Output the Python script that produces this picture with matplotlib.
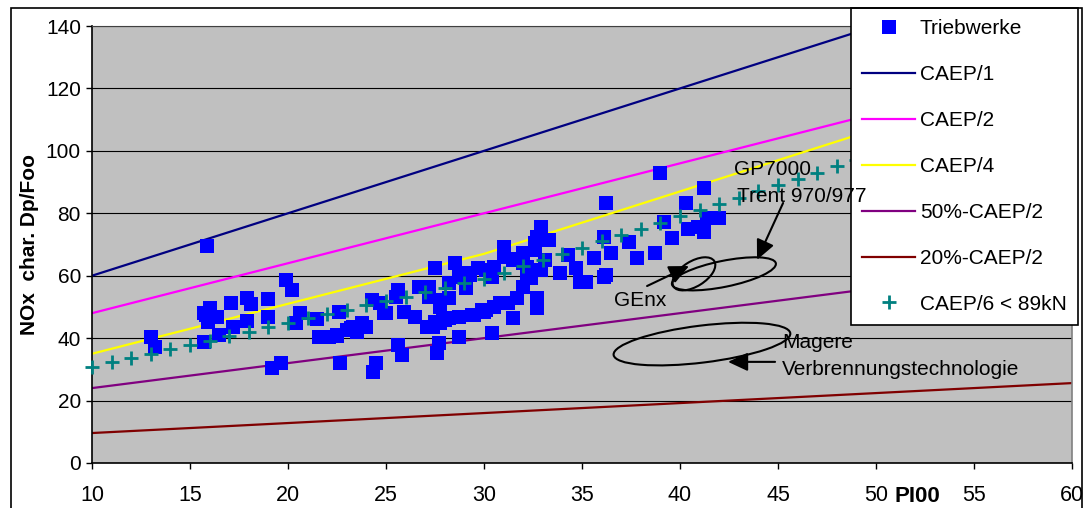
import matplotlib
matplotlib.use('Agg')
import matplotlib.pyplot as plt
from matplotlib import font_manager as fm
from matplotlib.patches import Ellipse, Rectangle
import matplotlib.transforms as mtransforms

# ---------------- data ----------------
pi_engines = [13.0, 13.2, 15.85, 15.7, 16.0, 15.9, 15.7, 16.4, 16.5, 17.1,
              17.2, 17.9, 18.1, 17.9, 19.0, 19.0, 19.2, 19.65, 19.9, 20.2,
              20.4, 15.8, 20.6, 21.5, 21.6, 22.1, 22.5, 22.6, 23.0, 23.3,
              22.65, 23.8, 24.3, 24.9, 24.5, 24.35, 25.6, 25.8, 25.6, 25.5,
              25.9, 26.5, 26.7, 27.2, 27.2, 27.5, 27.75, 27.75, 27.4, 27.9,
              27.7, 27.6, 28.5, 28.2, 28.2, 28.7, 28.7, 29.1, 29.3, 29.7,
              29.5, 29.9, 30.4, 30.4, 31.0, 31.0, 30.5, 30.8, 36.2, 32.9,
              32.7, 33.3, 32.0, 32.6, 33.1, 31.5, 32.0, 32.9, 33.9, 34.3,
              34.7, 34.9, 35.2, 35.6, 36.1, 36.1, 36.5, 37.4, 37.8, 38.7,
              30.4, 31.5, 30.1, 31.2, 31.7, 32.0, 32.2, 32.7, 32.7, 32.2,
              39.0, 41.2, 40.3, 39.2, 41.4, 42.0, 40.9, 40.4, 41.2, 39.6,
              36.2, 24.7, 25.0, 28.7, 29.2, 30.1, 30.5, 31.6, 32.6, 32.4,
              27.1, 27.5, 28.0, 29.4, 30.0, 23.5, 24.0, 27.75, 28.2, 22.5,
              23.2]
nox_engines = [40.5, 37.3, 69.4, 48.0, 49.7, 45.2, 38.9, 46.8, 41.0, 51.3,
               43.5, 53.0, 51.0, 45.6, 52.7, 46.7, 30.5, 32.0, 58.7, 55.4,
               44.8, 47.4, 48.0, 46.2, 40.5, 40.5, 40.6, 48.5, 42.6, 43.7,
               32.1, 44.8, 52.2, 48.0, 32.0, 29.3, 37.8, 34.6, 55.4, 53.3,
               48.5, 46.9, 56.5, 56.5, 53.3, 62.4, 52.2, 50.1, 43.7, 45.8,
               38.4, 35.2, 64.0, 57.6, 52.8, 46.9, 40.5, 56.0, 60.3, 62.4,
               47.4, 49.0, 41.8, 60.3, 69.3, 66.1, 50.1, 51.2, 83.4, 75.7,
               72.5, 71.5, 67.2, 68.3, 65.1, 65.1, 64.0, 61.9, 60.8, 66.7,
               62.4, 58.1, 58.1, 65.6, 72.5, 59.7, 67.2, 70.9, 65.6, 67.2,
               59.7, 46.4, 49.0, 51.2, 52.8, 56.5, 59.7, 52.8, 49.6, 62.9,
               92.9, 88.0, 83.2, 77.3, 78.4, 78.4, 75.7, 74.9, 74.1, 72.0,
               60.3, 51.2, 48.0, 59.7, 60.8, 61.9, 62.9, 65.4, 70.4, 59.2,
               43.7, 45.3, 45.8, 47.4, 48.4, 42.0, 43.5, 44.8, 46.4, 41.0,
               43.2]

pi_caep6 = [10, 11, 12, 13, 14, 15, 16, 17, 18, 19, 20, 21, 22, 23, 24,
            25, 26, 27, 28, 29, 30, 31, 32, 33, 34, 35, 36, 37, 38, 39,
            40, 41, 42, 43, 44, 45, 46, 47, 48, 49]
nox_caep6 = [30.8, 32.2, 33.6, 35.0, 36.4, 37.8, 39.2, 40.7, 42.1, 43.5,
             44.9, 46.3, 47.7, 49.1, 50.5, 51.9, 53.3, 54.7, 56.1, 57.6,
             59.0, 61.0, 63.0, 65.0, 67.0, 69.0, 71.0, 73.0, 75.0, 77.0,
             79.0, 81.0, 83.0, 85.0, 87.0, 89.0, 91.0, 93.0, 95.0, 97.0]

pi_line = [10, 60]
caep1 = [60, 160]
caep2 = [48, 128]
pi_caep4 = [10, 30, 60]
caep4 = [35, 67, 127]
caep2_50 = [24, 64]
caep2_20 = [9.6, 25.6]

xticks = [10, 15, 20, 25, 30, 35, 40, 45, 50, 55, 60]
yticks = [0, 20, 40, 60, 80, 100, 120, 140]

labels = ['Triebwerke', 'CAEP/1', 'CAEP/2', 'CAEP/4',
          '50%-CAEP/2', '20%-CAEP/2', 'CAEP/6 < 89kN']

# ---------------- fonts ----------------
def has_font(name):
    try:
        fm.findfont(fm.FontProperties(family=name), fallback_to_default=False)
        return True
    except Exception:
        return False

base_font = 'Liberation Sans' if has_font('Liberation Sans') else 'DejaVu Sans'
narrow_font = 'Liberation Sans Narrow' if has_font('Liberation Sans Narrow') else base_font
plt.rcParams['font.family'] = base_font

W, H = 1087, 508
fig = plt.figure(figsize=(W / 100, H / 100), dpi=100)
fig.patch.set_facecolor('white')
ax = fig.add_axes([92 / W, 45 / H, 980 / W, 437 / H])
ax.set_facecolor('#C0C0C0')

# lines
l1, = ax.plot(pi_line, caep1, color='#000080', lw=1.6, zorder=2)
l2, = ax.plot(pi_line, caep2, color='#FF00FF', lw=1.6, zorder=2)
l4, = ax.plot(pi_caep4, caep4, color='#FFFF00', lw=1.6, zorder=2)
l50, = ax.plot(pi_line, caep2_50, color='#800080', lw=1.6, zorder=2)
l20, = ax.plot(pi_line, caep2_20, color='#800000', lw=1.6, zorder=2)

# engines
sq, = ax.plot(pi_engines, nox_engines, linestyle='none', marker='s',
              markersize=9.4, color='#0000FF', markeredgewidth=0, zorder=3)
# CAEP/6
cr, = ax.plot(pi_caep6, nox_caep6, linestyle='none', marker='+',
              markersize=10.5, markeredgewidth=2.0, color='#008080', zorder=4,
              clip_on=False)

ax.set_xlim(10, 60)
ax.set_ylim(0, 140)
ax.set_xticks(xticks)
ax.set_yticks(yticks)
ax.set_xticklabels([str(v) for v in xticks], fontfamily=narrow_font, fontsize=15.5)
ax.set_yticklabels([str(v) for v in yticks], fontsize=15)
ax.tick_params(axis='y', direction='out', length=4, width=1, pad=4)
ax.tick_params(axis='x', direction='out', length=4, width=1, pad=12)
ax.yaxis.grid(True, color='black', lw=0.8)
ax.set_axisbelow(True)
for s in ['left', 'bottom']:
    ax.spines[s].set_color('black')
    ax.spines[s].set_linewidth(1.2)
ax.spines['top'].set_color('#404040')
ax.spines['top'].set_linewidth(0.8)
ax.spines['right'].set_color('#808080')
ax.spines['right'].set_linewidth(1.2)

ax.set_ylabel('NOx  char. Dp/Foo', fontsize=15, fontweight='bold')
ax.yaxis.label.set_va('center')
ax.yaxis.set_label_coords(-0.064, 0.5)
ax.set_xlabel('PI00', fontsize=16, fontweight='bold', fontfamily=narrow_font)
ax.xaxis.label.set_va('center')
ax.xaxis.set_label_coords(0.842, -0.076)

# annotations
ax.text(42.76, 93.9, 'GP7000', fontsize=15, va='center', ha='left', zorder=11)
ax.text(42.9, 85.3, 'Trent 970/977', fontsize=15, va='center', ha='left', zorder=11)
ax.text(36.63, 51.9, 'GEnx', fontsize=15, va='center', ha='left', zorder=6)
ax.text(45.2, 38.5, 'Magere', fontsize=15, va='center', ha='left', zorder=6)
ax.text(45.2, 29.8, 'Verbrennungstechnologie', fontsize=15, va='center', ha='left', zorder=6)

arrow_style = '-|>,head_length=0.6,head_width=0.28'
for start, tip in [((45.26, 83.3), (43.93, 65.1)),
                   ((38.32, 56.7), (40.46, 63.1)),
                   ((44.85, 32.4), (42.45, 32.4))]:
    ax.annotate('', xy=tip, xytext=start, xycoords='data', textcoords='data',
                arrowprops=dict(arrowstyle=arrow_style, mutation_scale=20,
                                color='black', lw=1.5, shrinkA=0, shrinkB=0),
                zorder=6)

def px_ellipse(cx, cy, wpx, hpx, ang):
    tr = fig.dpi_scale_trans + mtransforms.ScaledTranslation(cx, cy, ax.transData)
    e = Ellipse((0, 0), wpx / 100, hpx / 100, angle=ang, transform=tr,
                fill=False, edgecolor='black', lw=1.5, zorder=6)
    ax.add_artist(e)

px_ellipse(42.24, 60.6, 106, 26, 11.5)
px_ellipse(40.71, 60.6, 48, 25, 32)
px_ellipse(41.12, 38.1, 178, 37, 7)

# legend
leg = ax.legend([sq, l1, l2, l4, l50, l20, cr], labels, loc='upper left',
                bbox_to_anchor=(851 / W, 1 - 8 / H), bbox_transform=fig.transFigure,
                borderaxespad=0, frameon=True, fancybox=False, framealpha=1,
                edgecolor='black', facecolor='white', fontsize=15,
                handlelength=2.5, handletextpad=0.25, labelspacing=1.29,
                borderpad=0.55, numpoints=1)
leg.get_frame().set_linewidth(1.2)
leg.set_zorder(10)

# outer border
fig.add_artist(Rectangle((10.5 / W, -0.1), (1081.5 - 10.5) / W, 1.1 - 8 / H,
                         transform=fig.transFigure, fill=False,
                         edgecolor='black', lw=1.2, clip_on=False))

fig.savefig('out.png', dpi=100)
